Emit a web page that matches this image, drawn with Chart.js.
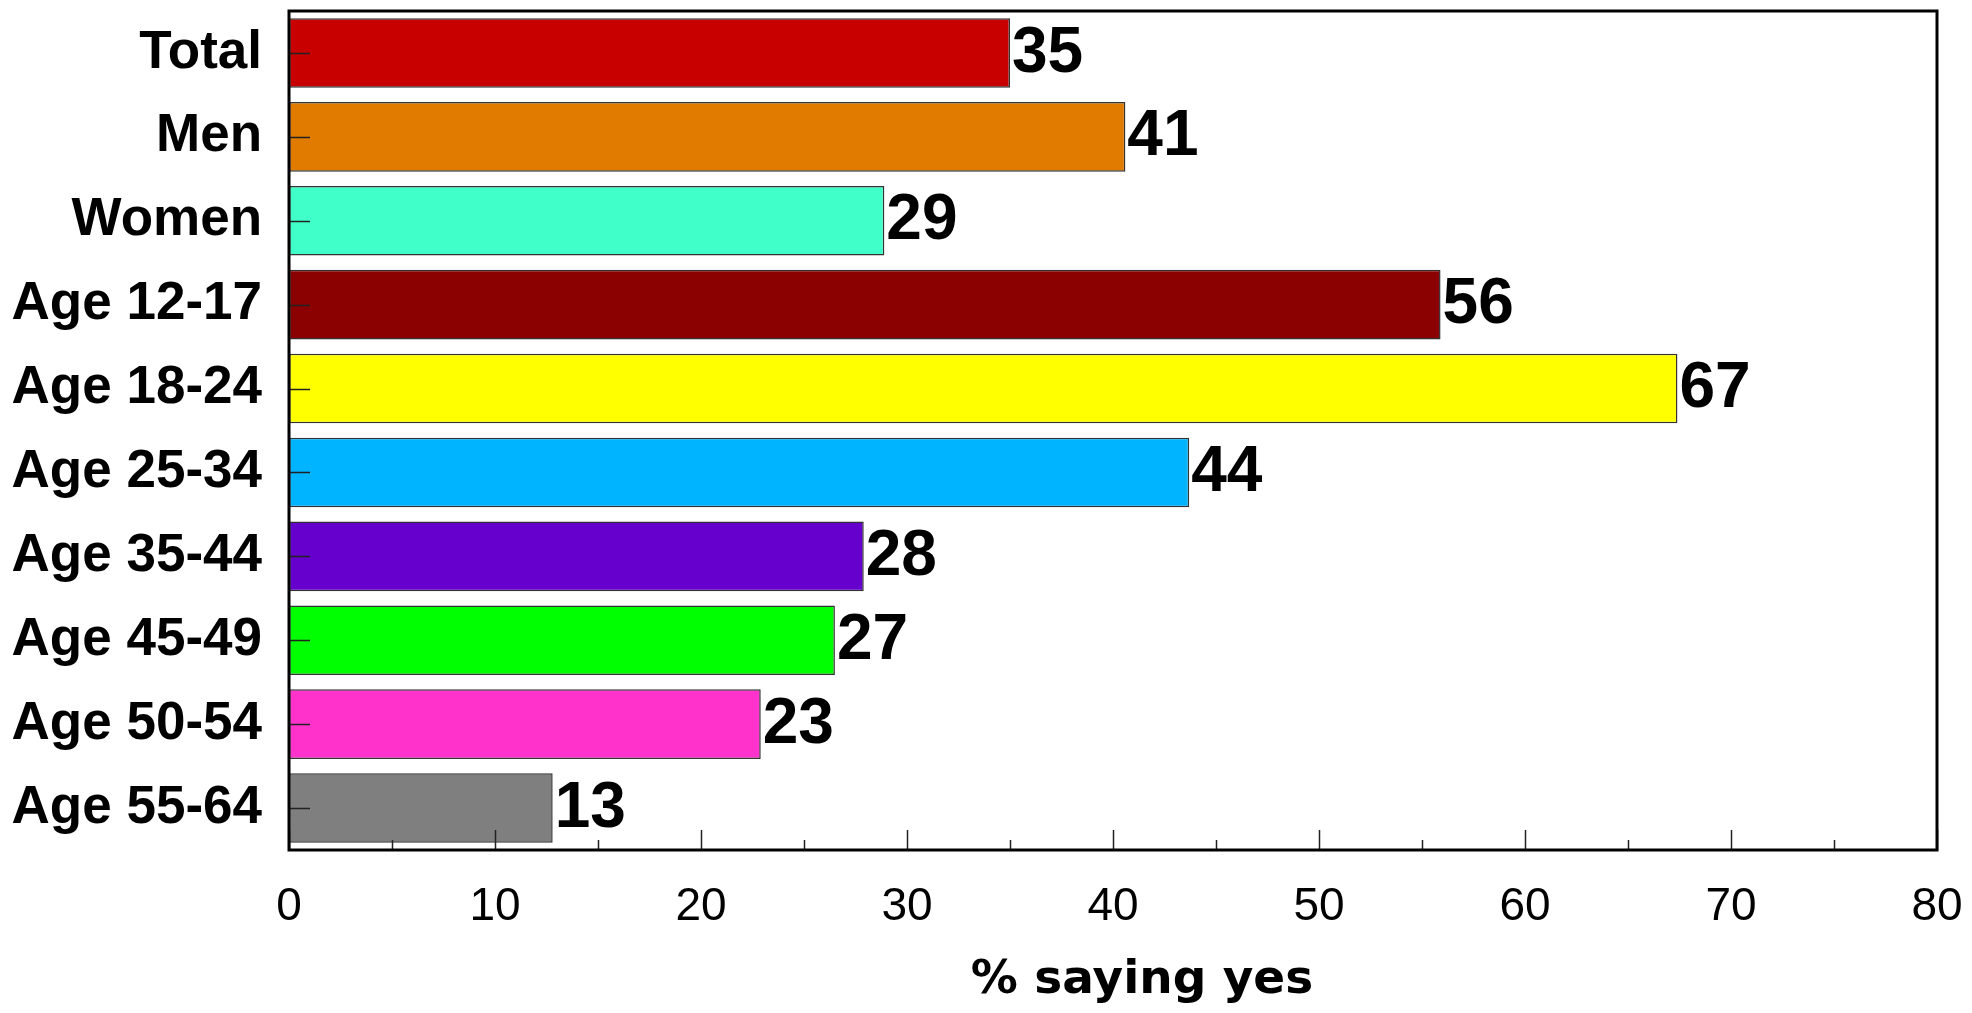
<!DOCTYPE html>
<html>
<head>
<meta charset="utf-8">
<title>% saying yes</title>
<script src="https://cdn.jsdelivr.net/npm/chart.js@4.4.1/dist/chart.umd.min.js"></script>
<style>
  html, body { margin: 0; padding: 0; background: #ffffff; }
  canvas { display: block; }
</style>
</head>
<body>
<canvas id="chart" width="1972" height="1013"></canvas>
<script>
// categories, top to bottom
const categories = ['Total', 'Men', 'Women', 'Age 12-17', 'Age 18-24', 'Age 25-34', 'Age 35-44', 'Age 45-49', 'Age 50-54', 'Age 55-64'];
// bar lengths
const barValues = [35.0, 40.6, 28.9, 55.9, 67.4, 43.7, 27.9, 26.5, 22.9, 12.8];
// printed numbers next to the bars
const valueLabels = ['35', '41', '29', '56', '67', '44', '28', '27', '23', '13'];
const barColors = ['#c80000', '#e07b00', '#40ffc8', '#8b0000', '#ffff00', '#00b4ff', '#6600cc', '#00ff00', '#ff33cc', '#7f7f7f'];
const xTickLabels = ['0', '10', '20', '30', '40', '50', '60', '70', '80'];
const xMinorTicks = [5, 15, 25, 35, 45, 55, 65, 75];
const xTitle = '% saying yes';

// frame, inward ticks, axis title and the numbers at the bar ends
const decorPlugin = {
    id: 'decor',
    afterDatasetsDraw(chart) {
        const ctx = chart.ctx;
        const area = chart.chartArea;
        const x = chart.scales.x;
        const y = chart.scales.y;
        ctx.save();

        // ticks on the left edge, pointing in
        ctx.strokeStyle = '#222';
        ctx.lineWidth = 1.5;
        categories.forEach((c, i) => {
            const py = Math.round(y.getPixelForValue(i)) + 0.5;
            ctx.beginPath();
            ctx.moveTo(area.left, py);
            ctx.lineTo(area.left + 21, py);
            ctx.stroke();
        });

        // ticks on the bottom edge, pointing up
        xTickLabels.forEach(t => {
            const px = Math.round(x.getPixelForValue(Number(t))) + 0.5;
            ctx.beginPath();
            ctx.moveTo(px, area.bottom);
            ctx.lineTo(px, area.bottom - 20);
            ctx.stroke();
        });
        xMinorTicks.forEach(t => {
            const px = Math.round(x.getPixelForValue(t)) + 0.5;
            ctx.beginPath();
            ctx.moveTo(px, area.bottom);
            ctx.lineTo(px, area.bottom - 10);
            ctx.stroke();
        });

        // frame
        ctx.strokeStyle = '#000';
        ctx.lineWidth = 3;
        ctx.strokeRect(area.left, area.top, area.right - area.left, area.bottom - area.top);

        // value labels
        const meta = chart.getDatasetMeta(0);
        ctx.fillStyle = '#000';
        ctx.font = 'bold 64px "Liberation Sans", Arial, sans-serif';
        ctx.textAlign = 'left';
        ctx.textBaseline = 'middle';
        meta.data.forEach((bar, i) => {
            ctx.fillText(valueLabels[i], bar.x + 2, bar.y + 1);
        });

        // axis title, sits a little right of the plot centre in the original
        ctx.font = 'bold 47px "DejaVu Sans", sans-serif';
        ctx.textAlign = 'center';
        ctx.fillText(xTitle, (area.left + area.right) / 2 + 29, area.bottom + 131);

        ctx.restore();
    }
};

const data = {
    labels: categories,
    datasets: [
        {
            label: xTitle,
            data: barValues,
            backgroundColor: barColors,
            borderColor: '#333',
            borderWidth: 1.5,
            borderSkipped: false,
            barPercentage: 0.83,
            categoryPercentage: 1.0,
        },
    ],
};

new Chart(document.getElementById('chart').getContext('2d'), {
    type: 'bar',
    data: data,
    options: {
        indexAxis: 'y',
        responsive: false,
        animation: false,
        layout: {
            padding: { top: 11, right: 35, left: 0, bottom: 0 },
        },
        plugins: {
            legend: { display: false },
            tooltip: { enabled: false },
        },
        scales: {
            x: {
                type: 'linear',
                min: 0,
                max: 80,
                afterFit: s => {
                    s.height = 163;
                    s.paddingLeft = 0;
                    s.paddingRight = 0;
                },
                grid: { display: false, drawTicks: false },
                border: { display: false },
                ticks: {
                    stepSize: 10,
                    padding: 30,
                    color: '#000',
                    font: { family: '"Liberation Sans", Arial, sans-serif', size: 46 },
                },
            },
            y: {
                afterFit: s => {
                    s.width = 289;
                    s.paddingTop = 0;
                    s.paddingBottom = 0;
                },
                grid: { display: false, drawTicks: false },
                border: { display: false },
                ticks: {
                    padding: 27,
                    color: '#000',
                    font: { family: '"Liberation Sans", Arial, sans-serif', size: 53, weight: 'bold' },
                },
            },
        },
    },
    plugins: [decorPlugin],
});
</script>
</body>
</html>
